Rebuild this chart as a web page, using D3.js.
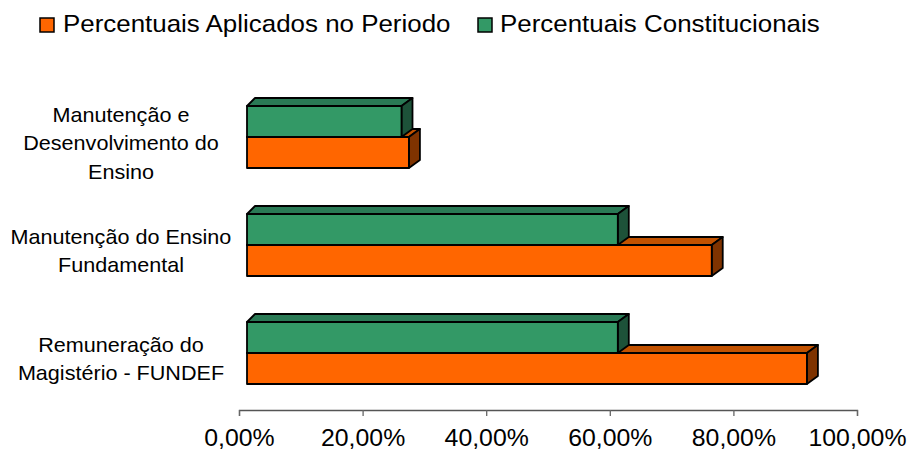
<!DOCTYPE html>
<html>
<head>
<meta charset="utf-8">
<script src="https://cdn.jsdelivr.net/npm/d3@7"></script>
<style>
  html, body { margin: 0; padding: 0; background: #fff; }
  svg { display: block; }
  text { font-family: "Liberation Sans", Arial, sans-serif; fill: #000; }
</style>
</head>
<body>
<svg id="chart" width="911" height="452"></svg>
<script>
// Data
const categories = [
  "Manutenção e\nDesenvolvimento do\nEnsino",
  "Manutenção do Ensino\nFundamental",
  "Remuneração do\nMagistério - FUNDEF"
];
const seriesNames = ["Percentuais Aplicados no Periodo", "Percentuais Constitucionais"];
const aplicados = [26.2, 75.2, 90.6];
const constitucionais = [25, 60, 60];
const tickValues = [0, 20, 40, 60, 80, 100];

// Layout
const SX = 1.08;              // horizontal stretch applied to glyphs
const axisY = 410;
const depthL = 8, depthR = 11, depthY = 8;   // 3D bar depth offsets
const frontShift = 8;         // front face offset from the axis origin

const colors = {
  aplic: { front: "#FF6600", top: "#C25200", side: "#7F3300" },
  const: { front: "#339966", top: "#2A7A55", side: "#1D5239" }
};

const svg = d3.select("#chart");

const x = d3.scaleLinear().domain([0, 100]).range([239, 857]);
const y = d3.scaleBand().domain(categories).range([83, 407]).padding(0);
const ySub = d3.scaleBand().domain(["const", "aplic"]).range([-31, 31]).padding(0);

// Bars (drawn per category: applied first, constitutional on top)
const rows = categories.map((c, i) => ({ cat: c, aplic: aplicados[i], const: constitucionais[i] }));

function bar3d(g, key, v, cat) {
  const c = colors[key];
  const x0 = x(0) + frontShift, x1 = x(v) + frontShift;
  const cy = y(cat) + y.bandwidth() / 2;
  const yt = cy + ySub(key), yb = yt + ySub.bandwidth();
  const line = d3.line();
  const style = sel => sel.attr("stroke", "#000").attr("stroke-width", 1.8).attr("stroke-linejoin", "round");
  g.append("path").attr("d", line([[x0, yt], [x0 + depthL, yt - depthY], [x1 + depthR, yt - depthY], [x1, yt]]) + "Z")
    .attr("fill", c.top).call(style);
  g.append("path").attr("d", line([[x1, yt], [x1 + depthR, yt - depthY], [x1 + depthR, yb - depthY], [x1, yb]]) + "Z")
    .attr("fill", c.side).call(style);
  g.append("rect").attr("x", x0).attr("y", yt).attr("width", x1 - x0).attr("height", yb - yt)
    .attr("fill", c.front).call(style);
}

const barsG = svg.append("g");
rows.forEach(r => {
  const g = barsG.append("g");
  bar3d(g, "aplic", r.aplic, r.cat);
  bar3d(g, "const", r.const, r.cat);
});

// Category labels
const lineH = 28.5;
const labelG = svg.append("g");
categories.forEach(cat => {
  const lines = cat.split("\n");
  const cy = y(cat) + y.bandwidth() / 2 + 13;
  lines.forEach((ln, j) => {
    const by = cy + (j - (lines.length - 1) / 2) * lineH;
    labelG.append("text")
      .attr("transform", `translate(121,${by}) scale(${SX},1)`)
      .attr("text-anchor", "middle")
      .attr("font-size", 20)
      .text(ln);
  });
});

// X axis
const fmt = v => v.toFixed(2).replace(".", ",") + "%";
const axis = d3.axisBottom(x).tickValues(tickValues).tickFormat(fmt).tickSizeInner(6).tickSizeOuter(6).tickPadding(0);
const axG = svg.append("g").attr("transform", `translate(0,${axisY})`).call(axis);
axG.select(".domain").attr("stroke", "#555").attr("stroke-width", 1.3);
axG.selectAll(".tick line").attr("stroke", "#666").attr("stroke-width", 1.3);
axG.selectAll(".tick text")
  .attr("y", 36).attr("dy", 0)
  .attr("font-size", 23)
  .attr("font-family", "Liberation Sans, Arial, sans-serif")
  .attr("fill", "#000")
  .attr("transform", `scale(${SX},1)`);

// Legend
const legendItems = [
  { name: seriesNames[0], color: colors.aplic.front, sx: 40, tx: 63 },
  { name: seriesNames[1], color: colors.const.front, sx: 478, tx: 500 }
];
const legG = svg.append("g");
legendItems.forEach(it => {
  legG.append("rect").attr("x", it.sx).attr("y", 18).attr("width", 14).attr("height", 14)
    .attr("fill", it.color).attr("stroke", "#000").attr("stroke-width", 1.5);
  legG.append("text")
    .attr("transform", `translate(${it.tx},32) scale(${SX},1)`)
    .attr("font-size", 24)
    .text(it.name);
});
</script>
</body>
</html>
